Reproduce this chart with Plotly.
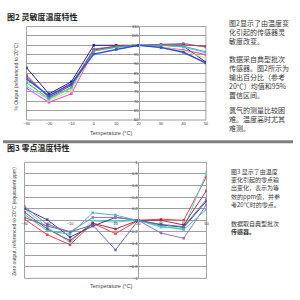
import plotly.graph_objects as go

# ---------------- data ----------------
temps = [-30, -20, -10, 0, 10, 20, 30, 40, 50]
temp_ticks = [-30, -20, -10, 0, 10, 20, 30, 40, 50]

# Fig 2: % output (referenced to 20°C)
sens_navy    = [88.0, 74.0, 80.5, 100.0, 100.0, 100, 100.0, 99.5, 91.0]
sens_magenta = [77.0, 69.5, 74.0, 97.0, 99.0, 100, 99.0, 97.5, 95.0]
sens_yellow  = [81.0, 70.5, 75.5, 97.0, 99.0, 100, 99.3, 97.0, 93.0]
sens_cyan    = [78.0, 71.0, 77.0, 97.5, 99.0, 100, 100.0, 99.0, 96.0]
sens_purple  = [83.0, 72.5, 79.0, 98.0, 99.5, 100, 100.5, 101.0, 99.0]
sens_darkred = [84.0, 72.0, 78.5, 97.5, 99.5, 100, 100.3, 100.3, 99.5]
sens_teal    = [80.0, 71.5, 77.5, 97.0, 99.0, 100, 100.0, 99.5, 96.5]
sens_blue    = [82.0, 73.0, 79.5, 95.3, 97.7, 100, 98.8, 96.3, 90.5]

# Fig 3: zero output (equivalent ppm)
zero_red     = [0.02, -0.25, -0.42, -0.05, -0.23, 0, 0.02, 0.00, 0.75]
zero_cyan    = [0.20, -0.12, -0.38, -0.01, -0.03, 0, -0.12, -0.14, 0.82]
zero_darkred = [0.14, -0.15, -0.35, -0.05, -0.15, 0, 0.00, -0.08, 0.51]
zero_navy    = [0.20, 0.01, -0.29, -0.10, 0.05, 0, -0.08, -0.12, 0.33]
zero_purple  = [0.24, -0.07, -0.20, 0.05, 0.05, 0, -0.22, -0.31, 0.27]
zero_teal    = [0.10, -0.18, -0.24, 0.13, 0.09, 0, -0.10, -0.16, 0.19]
zero_slate   = [0.05, -0.10, -0.20, -0.08, -0.51, 0, -0.07, -0.11, 0.36]

top_paragraphs = [["图2显示了由温度变", "化引起的传感器灵", "敏度改变。"],
                  ["数据采自典型批次", "传感器。图2所示为", "输出百分比（参考",
                   "20℃）均值和95%", "置信区间。"],
                  ["氯气的测量比较困", "难。温度高时尤其", "难测。"]]
bottom_lines = ["图3 显示了由温度", "变化引起的零点输", "出变化，表示为等",
                "效的ppm值，并参", "考20℃时的零点。",
                "数据取自典型批次", "<b>传感器。</b>"]

# ---------------- figure ----------------
W = H = 300
def px_x(p): return p / W
def px_y(p): return 1 - p / H

fig = go.Figure()

top_series = [(sens_navy, "#202090", 1), (sens_magenta, "#FF33FF", 1),
              (sens_yellow, "#E6E633", 1), (sens_cyan, "#55DDDD", 1),
              (sens_purple, "#9070C8", 1), (sens_darkred, "#A84040", 1),
              (sens_teal, "#50A8A8", 1), (sens_blue, "#3050E0", 1.5)]
for vals, col, w in top_series:
    fig.add_trace(go.Scatter(x=temps, y=vals, mode="lines+markers",
                             line=dict(color=col, width=w),
                             marker=dict(symbol="square", size=2.5, color=col),
                             xaxis="x", yaxis="y", showlegend=False))

bot_series = [(zero_red, "#FF4040"), (zero_cyan, "#44DDDD"),
              (zero_darkred, "#A83050"), (zero_navy, "#404088"),
              (zero_purple, "#9070C8"), (zero_teal, "#50B8B8"),
              (zero_slate, "#6070B8")]
for vals, col in bot_series:
    fig.add_trace(go.Scatter(x=temps, y=vals, mode="lines+markers",
                             line=dict(color=col, width=1),
                             marker=dict(symbol="square", size=2.5, color=col),
                             xaxis="x2", yaxis="y2", showlegend=False))

tickfont = dict(family="Arial, Liberation Sans", size=4, color="#333")
grid = "#a0a0a0"

fig.update_layout(
    width=W, height=H, margin=dict(l=0, r=0, t=0, b=0),
    paper_bgcolor="white", plot_bgcolor="white",
    xaxis=dict(domain=[px_x(24), px_x(207)], range=[-30, 50], anchor="y",
               tickvals=temp_ticks, tickfont=tickfont, showgrid=False,
               zeroline=False, showline=False, ticks=""),
    yaxis=dict(domain=[px_y(119), px_y(24)], range=[60, 110], anchor="free",
               position=px_x(139), dtick=5, tickfont=tickfont, showgrid=True,
               gridcolor=grid, gridwidth=1, zeroline=False, showline=True,
               linecolor=grid, ticks=""),
    xaxis2=dict(domain=[px_x(22), px_x(207.6)], range=[-30, 50], anchor="free",
                position=px_y(221), tickvals=temp_ticks, tickfont=tickfont,
                showgrid=False, zeroline=False, showline=False, ticks=""),
    yaxis2=dict(domain=[px_y(280), px_y(162)], range=[-1, 1], anchor="free",
                position=px_x(138), dtick=0.2, tickfont=tickfont, showgrid=True,
                gridcolor=grid, gridwidth=1, zeroline=False, showline=True,
                linecolor=grid, ticks=""),
)

# plot frames and separator
fig.add_shape(type="rect", xref="x domain", yref="y domain", x0=0, x1=1, y0=0, y1=1,
              line=dict(color=grid, width=1), layer="below")
fig.add_shape(type="rect", xref="x2 domain", yref="y2 domain", x0=0, x1=1, y0=0, y1=1,
              line=dict(color=grid, width=1), layer="below")
fig.add_shape(type="line", xref="paper", yref="paper", x0=0, x1=px_x(296),
              y0=px_y(141), y1=px_y(141), line=dict(color="#808080", width=3))

cjk = "Noto Sans CJK SC"
lat = "Arial, Liberation Sans"

def ann(text, x, y, size, family=cjk, color="#333", angle=0, xanchor="left", align="left"):
    fig.add_annotation(text=text, x=px_x(x), y=px_y(y), xref="paper", yref="paper",
                       xanchor=xanchor, yanchor="middle", showarrow=False, align=align,
                       borderpad=0, textangle=angle,
                       font=dict(family=family, size=size, color=color))

ann("<b>图2 灵敏度温度特性</b>", 3, 14, 8, color="#222")
ann("<b>图3 零点温度特性</b>", 3, 147, 8, color="#222")
ann("% Output (referenced to 20°C)", 13, 75, 5, family=lat, color="#444", angle=-90, xanchor="center")
ann("Temperature (°C)", 110, 132, 5.5, family=lat, color="#444", xanchor="center")
ann("Zero output, referenced to 20°C (equivalent ppm)", 12, 222, 5, family=lat, color="#444", angle=-90, xanchor="center")
ann("Temperature (°C)", 110, 288, 5.5, family=lat, color="#444", xanchor="center")

top_centers = [30, 75, 118]
for lines, yc in zip(top_paragraphs, top_centers):
    ann("<br>".join(lines), 230, yc, 7, color="#3a3a3a")
bot_y = [171, 179.5, 188, 196.5, 205, 224, 232.5]
for t, y in zip(bottom_lines, bot_y):
    ann(t, 232, y, 6, color="#3a3a3a")

fig.write_html("out.html")
